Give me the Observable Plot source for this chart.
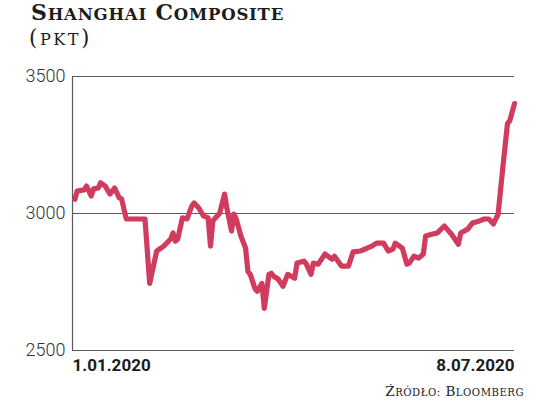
<!DOCTYPE html>
<html>
<head>
<meta charset="utf-8">
<script src="https://cdn.jsdelivr.net/npm/d3@7"></script>
<script src="https://cdn.jsdelivr.net/npm/@observablehq/plot@0.6"></script>
<style>
  html, body { margin: 0; padding: 0; background: #fff; }
  body { width: 536px; height: 402px; position: relative; overflow: hidden; }
  .title { position: absolute; left: 31px; top: 0px; font-family: "DejaVu Serif"; font-weight: bold; font-size: 22px; line-height: 1.1; color: #1c1c1c; letter-spacing: 0.8px; white-space: nowrap; }
  .subtitle { position: absolute; left: 29px; top: 26px; font-family: "DejaVu Serif"; font-size: 21.5px; line-height: 1.1; color: #1c1c1c; letter-spacing: 2.5px; white-space: nowrap; }
  .sc { text-transform: uppercase; font-size: 0.75em; }
  #chart { position: absolute; left: 0; top: 56px; }
  .source { position: absolute; right: 12px; top: 384px; font-family: "DejaVu Serif"; font-size: 13.5px; line-height: 1.1; color: #222; letter-spacing: 0.5px; white-space: nowrap; }
</style>
</head>
<body>
<div class="title">S<span class="sc">hanghai</span> C<span class="sc">omposite</span></div>
<div class="subtitle">(<span class="sc">pkt</span>)</div>
<div id="chart"></div>
<div class="source">Ź<span class="sc">ródło:</span> B<span class="sc">loomberg</span></div>
<script>
const dates = [
  "2020-01-02","2020-01-03","2020-01-06","2020-01-07","2020-01-09","2020-01-10","2020-01-12","2020-01-13",
  "2020-01-15","2020-01-17","2020-01-19","2020-01-21","2020-01-22","2020-01-24","2020-02-01","2020-02-03",
  "2020-02-06","2020-02-09","2020-02-12","2020-02-13","2020-02-14","2020-02-15","2020-02-17","2020-02-19",
  "2020-02-21","2020-02-22","2020-02-24","2020-02-26","2020-02-28","2020-02-29","2020-03-01","2020-03-04",
  "2020-03-06","2020-03-07","2020-03-09","2020-03-10","2020-03-11","2020-03-13","2020-03-15","2020-03-16",
  "2020-03-17","2020-03-19","2020-03-20","2020-03-22","2020-03-23","2020-03-25","2020-03-26","2020-03-27",
  "2020-03-29","2020-03-31","2020-04-02","2020-04-05","2020-04-06","2020-04-09","2020-04-10","2020-04-12",
  "2020-04-13","2020-04-15","2020-04-18","2020-04-21","2020-04-22","2020-04-25","2020-04-28","2020-04-30",
  "2020-05-03","2020-05-08","2020-05-10","2020-05-13","2020-05-15","2020-05-17","2020-05-18","2020-05-21",
  "2020-05-23","2020-05-24","2020-05-26","2020-05-28","2020-05-30","2020-05-31","2020-06-03","2020-06-05",
  "2020-06-08","2020-06-11","2020-06-14","2020-06-15","2020-06-18","2020-06-20","2020-06-23","2020-06-25",
  "2020-06-27","2020-06-29","2020-07-01","2020-07-02","2020-07-03","2020-07-05","2020-07-06","2020-07-08"
];
const values = [
  3052,3082,3086,3100,3064,3090,3093,3112,
  3100,3071,3093,3057,3053,2980,2980,2745,
  2863,2881,2907,2929,2899,2907,2984,2980,
  3027,3038,3020,2991,2984,2881,2973,3002,
  3071,3020,2936,2998,2980,2918,2874,2789,
  2778,2727,2716,2745,2654,2778,2782,2771,
  2760,2734,2778,2764,2819,2826,2815,2778,
  2819,2815,2852,2833,2844,2808,2808,2860,
  2863,2881,2892,2892,2863,2870,2892,2874,
  2815,2819,2844,2837,2852,2918,2925,2929,
  2954,2925,2888,2929,2943,2965,2973,2980,
  2980,2962,2998,3082,3167,3328,3339,3401
];
const yTicks = [2500, 3000, 3500];
const xTickDates = ["2020-01-01", "2020-07-08"];
const xTickLabels = ["1.01.2020", "8.07.2020"];

const data = dates.map((d, i) => ({date: new Date(d), value: values[i]}));
const xTicks = xTickDates.map((d, i) => ({date: new Date(d), label: xTickLabels[i]}));

const chart = Plot.plot({
  width: 536,
  height: 330,
  marginTop: 20,
  marginBottom: 36,
  marginLeft: 72,
  marginRight: 22,
  x: {type: "utc", domain: [xTicks[0].date, xTicks[1].date], axis: null},
  y: {domain: [2500, 3500], axis: null},
  marks: [
    Plot.ruleY(yTicks, {stroke: "#5a5a5a", strokeWidth: 1.2}),
    Plot.ruleX([xTicks[0].date], {stroke: "#5a5a5a", strokeWidth: 1.2}),
    Plot.axisY({ticks: yTicks, label: null, tickSize: 0, tickPadding: 7, fontSize: 18, fontFamily: "Roboto", fontWeight: 300, fill: "#333", tickFormat: d => String(d)}),
    Plot.line(data, {x: "date", y: "value", stroke: "#d13b5d", strokeWidth: 5.2, strokeLinejoin: "round", strokeLinecap: "round"}),
    Plot.text([xTicks[0]], {x: "date", y: () => 2500, text: "label", textAnchor: "start", lineAnchor: "top", dy: 8, fontSize: 17, fontWeight: "bold", fontFamily: "Roboto", fill: "#1c1c1c"}),
    Plot.text([xTicks[1]], {x: "date", y: () => 2500, text: "label", textAnchor: "end", lineAnchor: "top", dy: 8, fontSize: 17, fontWeight: "bold", fontFamily: "Roboto", fill: "#1c1c1c"})
  ]
});
document.getElementById("chart").appendChild(chart);
</script>
</body>
</html>
